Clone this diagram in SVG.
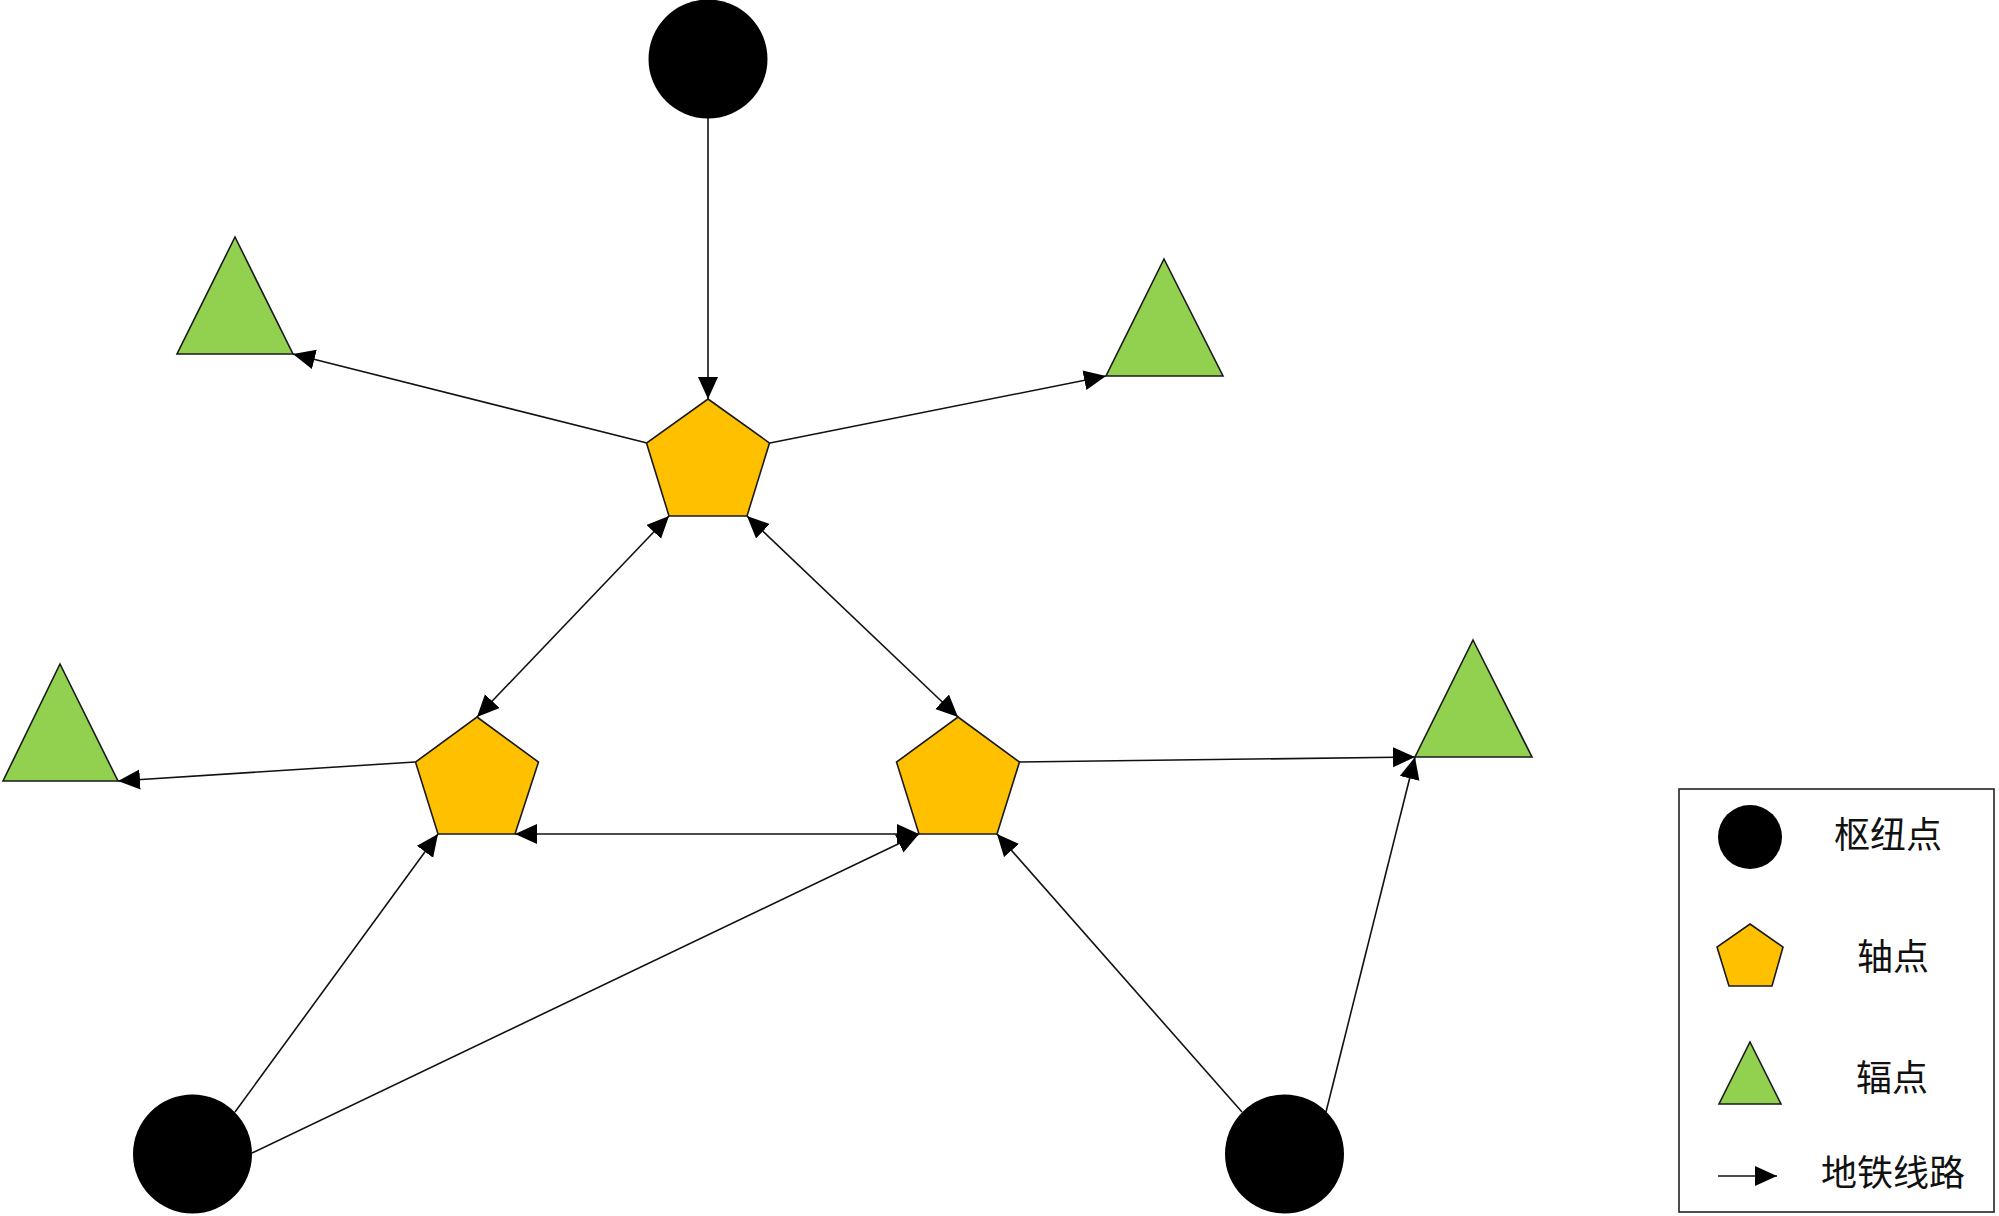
<svg xmlns="http://www.w3.org/2000/svg" width="1999" height="1216" viewBox="0 0 1999 1216">
<style>
.hub{fill:#000}
.pivot{fill:#FFC000;stroke:#1a1a1a;stroke-width:1.6;stroke-linejoin:miter}
.spoke{fill:#92D050;stroke:#1a1a1a;stroke-width:1.6;stroke-linejoin:miter}
.edge{stroke:#111;stroke-width:1.6;fill:none}
.one{marker-end:url(#ah)}
.two{marker-start:url(#ah);marker-end:url(#ah)}
.lbl{font-family:"Noto Sans CJK SC","Noto Sans",sans-serif;font-size:36px;fill:#111;text-anchor:middle}
</style>
<defs>
<marker id="ah" markerUnits="userSpaceOnUse" markerWidth="24" markerHeight="22" refX="22" refY="10" orient="auto-start-reverse" viewBox="0 0 24 22">
<path d="M0,0 L22,10 L0,20 z" fill="#000"/>
</marker>
</defs>
<rect width="1999" height="1216" fill="#fff"/>
<g id="connectors">
<line class="edge one" x1="708" y1="118" x2="708" y2="399"/>
<line class="edge one" x1="647" y1="443" x2="293" y2="354"/>
<line class="edge one" x1="770" y1="443" x2="1106" y2="376"/>
<line class="edge two" x1="669" y1="516" x2="477" y2="717"/>
<line class="edge two" x1="747" y1="516" x2="958" y2="717"/>
<line class="edge one" x1="415" y1="762" x2="118" y2="781"/>
<line class="edge one" x1="1019" y1="762" x2="1415" y2="757"/>
<line class="edge two" x1="515" y1="834" x2="919" y2="834"/>
<line class="edge one" x1="235" y1="1112" x2="438" y2="834"/>
<line class="edge one" x1="252" y1="1153" x2="919" y2="834"/>
<line class="edge one" x1="1242" y1="1112" x2="997" y2="834"/>
<line class="edge one" x1="1326" y1="1112" x2="1415" y2="757"/>
</g>
<g id="hub-top"><circle class="hub" cx="708" cy="59" r="59.5"/></g>
<g id="hub-bottom-left"><circle class="hub" cx="192.5" cy="1154" r="59.5"/></g>
<g id="hub-bottom-right"><circle class="hub" cx="1284.5" cy="1154" r="59.5"/></g>
<g id="pivot-top"><polygon class="pivot" points="708,399 769.5,443 747,516 669,516 646.5,443"/></g>
<g id="pivot-left"><polygon class="pivot" points="477,717 538.5,762 515,834 438,834 415.5,762"/></g>
<g id="pivot-right"><polygon class="pivot" points="958,717 1019.5,762 997,834 919,834 896.5,762"/></g>
<g id="spoke-1"><polygon class="spoke" points="235,237 293,354 177,354"/></g>
<g id="spoke-2"><polygon class="spoke" points="60,664 118,781 3,781"/></g>
<g id="spoke-3"><polygon class="spoke" points="1164,259 1223,376 1106,376"/></g>
<g id="spoke-4"><polygon class="spoke" points="1473,640 1532,757 1415,757"/></g>
<g id="legend">
<rect x="1679" y="789" width="315" height="423" fill="none" stroke="#222" stroke-width="1.6"/>
<circle class="hub" cx="1750" cy="837" r="32"/>
<text class="lbl" x="1888" y="848">枢纽点</text>
<polygon class="pivot" points="1750,924 1783,947 1772,986 1729,986 1717,947"/>
<text class="lbl" x="1893" y="970">轴点</text>
<polygon class="spoke" points="1750,1042 1781,1104 1719,1104"/>
<text class="lbl" x="1892" y="1091">辐点</text>
<line class="edge one" x1="1718" y1="1176" x2="1777" y2="1176"/>
<text class="lbl" x="1893" y="1186">地铁线路</text>
</g>
</svg>
